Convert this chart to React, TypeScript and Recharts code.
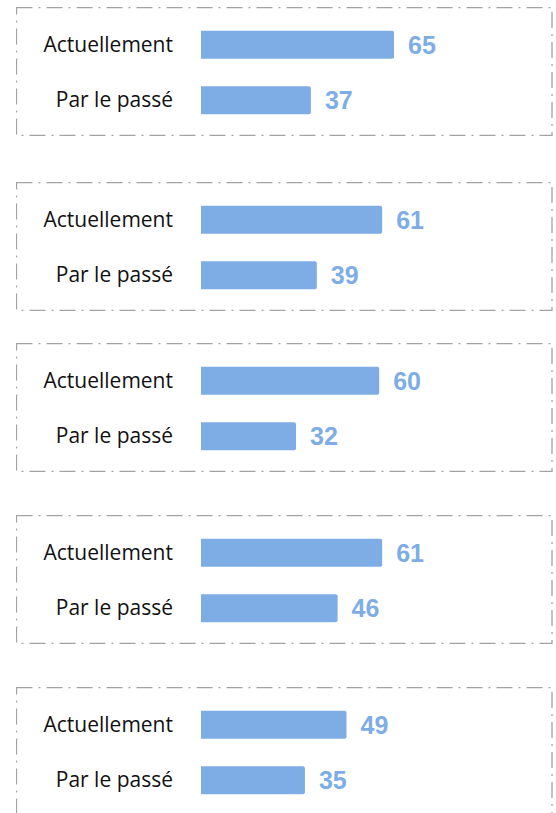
import React from "react";
import { Bar, BarChart, LabelList, XAxis, YAxis } from "recharts";

const BLUE = "#7EADE6";
const FRAME = "#A3A3A3";

const categories = ["Actuellement", "Par le passé"];
const currentValues = [65, 61, 60, 61, 49];
const pastValues = [37, 39, 32, 46, 35];
const panelTops = [7, 182, 343, 515, 687];

const W = 537;
const H = 129;

function Panel({ top, current, past }: { top: number; current: number; past: number }) {
  const data = [
    { name: categories[0], value: current },
    { name: categories[1], value: past },
  ];
  return (
    <div style={{ position: "absolute", left: 16, top, width: W, height: H }}>
      <BarChart
        width={W}
        height={H}
        data={data}
        layout="vertical"
        margin={{ top: 9.75, right: W - 185 - 297, bottom: 8.25, left: 0 }}
      >
        <XAxis type="number" domain={[0, 100]} hide />
        <YAxis
          type="category"
          dataKey="name"
          width={185}
          axisLine={false}
          tickLine={false}
          tickSize={0}
          tickMargin={28}
          tick={{ fontSize: 21, fill: "#111", fontFamily: "'Open Sans', sans-serif", fontWeight: 400 }}
        />
        <Bar dataKey="value" fill={BLUE} barSize={28} radius={[0, 2, 2, 0]} isAnimationActive={false}>
          <LabelList
            dataKey="value"
            position="right"
            offset={14}
            fill={BLUE}
            fontSize={25}
            fontWeight="bold"
            fontFamily="'Liberation Sans', Arial, sans-serif"
          />
        </Bar>
      </BarChart>
      <svg width={W} height={H} style={{ position: "absolute", left: 0, top: 0, pointerEvents: "none" }}>
        <rect
          x={0.5}
          y={0.5}
          width={W - 1.5}
          height={H - 1}
          fill="none"
          stroke={FRAME}
          strokeWidth={1.3}
          strokeDasharray="16 6 2 6"
        />
      </svg>
    </div>
  );
}

export default function App() {
  return (
    <div
      style={{
        position: "absolute",
        left: 0,
        top: 0,
        width: 556,
        height: 813,
        overflow: "hidden",
        background: "#fff",
      }}
    >
      {panelTops.map((t, i) => (
        <Panel key={i} top={t} current={currentValues[i]} past={pastValues[i]} />
      ))}
    </div>
  );
}
